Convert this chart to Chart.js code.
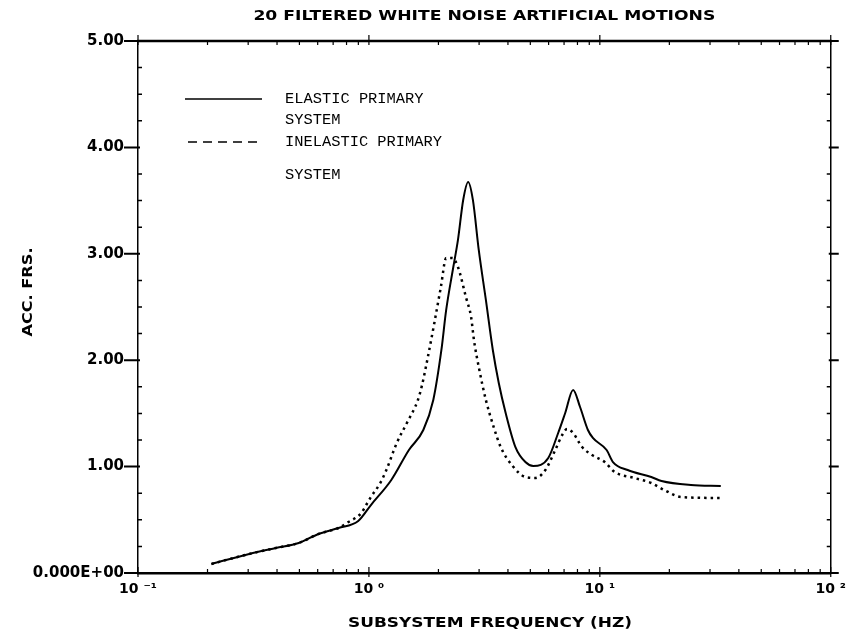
<!DOCTYPE html>
<html>
<head>
<meta charset="utf-8">
<script src="https://cdn.jsdelivr.net/npm/chart.js@4.4.0/dist/chart.umd.min.js"></script>
<style>
html,body{margin:0;padding:0;background:#fff;}
#c{display:block;}
</style>
</head>
<body>
<canvas id="c" width="854" height="637"></canvas>
<script>
// ---- data ----
const elasticFreq = [0.208,0.303,0.395,0.497,0.605,0.738,0.899,1.02,1.25,1.49,1.72,1.90,2.06,2.16,2.32,2.43,2.56,2.69,2.82,2.99,3.21,3.44,3.65,3.91,4.31,4.76,5.15,5.98,6.60,7.08,7.66,8.21,8.88,9.33,10.7,11.4,13.2,16.7,18.5,24.8,33.4];
const elasticAcc  = [0.085,0.179,0.235,0.282,0.367,0.423,0.489,0.639,0.874,1.156,1.344,1.626,2.096,2.47,2.876,3.13,3.506,3.675,3.506,3.036,2.566,2.096,1.786,1.504,1.184,1.043,1.006,1.081,1.316,1.504,1.72,1.56,1.344,1.269,1.156,1.043,0.968,0.902,0.865,0.827,0.818];
const inelasticFreq = [0.208,0.303,0.395,0.497,0.605,0.738,0.815,0.927,0.973,1.02,1.12,1.19,1.32,1.46,1.63,1.70,1.80,1.92,2.05,2.16,2.30,2.43,2.63,2.77,2.85,2.99,3.21,3.47,3.72,4.19,4.76,5.26,5.81,6.41,6.87,7.21,7.66,8.38,9.25,10.5,11.6,14.1,16.7,19.0,22.5,33.4];
const inelasticAcc  = [0.085,0.179,0.235,0.282,0.367,0.423,0.479,0.564,0.639,0.714,0.846,0.968,1.222,1.41,1.626,1.77,2.03,2.35,2.69,2.96,2.96,2.876,2.594,2.406,2.19,1.936,1.626,1.372,1.184,1.006,0.902,0.893,0.968,1.156,1.297,1.353,1.316,1.184,1.109,1.043,0.949,0.893,0.846,0.78,0.714,0.705];
const xTickLabels = {'-1':'10 \u207B\u00B9','0':'10 \u2070','1':'10 \u00B9','2':'10 \u00B2'};
const yTickValues = [0,1,2,3,4,5];
const seriesNames = ['ELASTIC PRIMARY','SYSTEM','INELASTIC PRIMARY','SYSTEM'];
const chartTitle = '20 FILTERED WHITE NOISE ARTIFICIAL MOTIONS';
const xTitle = 'SUBSYSTEM FREQUENCY (HZ)';
const yTitle = 'ACC. FRS.';

const toPts = (xs, ys) => xs.map((x, i) => ({x: x, y: ys[i]}));

function fitText(ctx, text, x, y, width, font, align) {
  ctx.save();
  ctx.font = font;
  const w = ctx.measureText(text).width;
  const s = width / w;
  ctx.translate(x, y);
  ctx.scale(s, 1);
  ctx.textBaseline = 'middle';
  ctx.textAlign = align || 'center';
  ctx.fillStyle = '#000';
  ctx.fillText(text, 0, 0);
  ctx.restore();
}

const decor = {
  id: 'decor',
  afterDraw(chart) {
    const ctx = chart.ctx;
    const a = chart.chartArea;
    const xs = chart.scales.x, ys = chart.scales.y;
    ctx.save();
    ctx.strokeStyle = '#000';
    // top & right frame
    ctx.lineWidth = 2.5;
    ctx.beginPath(); ctx.moveTo(a.left - 1, a.top); ctx.lineTo(a.right + 1, a.top); ctx.stroke();
    ctx.lineWidth = 1.5;
    ctx.beginPath(); ctx.moveTo(a.right, a.top); ctx.lineTo(a.right, a.bottom); ctx.stroke();
    // x ticks
    ctx.lineWidth = 1.2;
    for (let d = -1; d <= 2; d++) {
      for (let k = 1; k <= 9; k++) {
        const v = k * Math.pow(10, d);
        if (v > 100.0001) continue;
        const px = xs.getPixelForValue(v);
        ctx.beginPath();
        if (k === 1) {
          ctx.moveTo(px, a.bottom + 4); ctx.lineTo(px, a.bottom - 6);
          ctx.moveTo(px, a.top - 6); ctx.lineTo(px, a.top + 4);
        } else {
          ctx.moveTo(px, a.bottom); ctx.lineTo(px, a.bottom - 4);
          ctx.moveTo(px, a.top); ctx.lineTo(px, a.top + 4);
        }
        ctx.stroke();
      }
    }
    // y ticks
    for (let i = 0; i <= 20; i++) {
      const v = i * 0.25;
      const py = ys.getPixelForValue(v);
      ctx.beginPath();
      if (i % 4 === 0) {
        ctx.lineWidth = 2;
        ctx.moveTo(a.left - 14, py); ctx.lineTo(a.left + 2, py);
        ctx.moveTo(a.right - 2, py); ctx.lineTo(a.right + 8, py);
      } else {
        ctx.lineWidth = 1.5;
        ctx.moveTo(a.left, py); ctx.lineTo(a.left + 4, py);
        ctx.moveTo(a.right, py); ctx.lineTo(a.right - 4, py);
      }
      ctx.stroke();
    }
    // titles
    const sansB = 'bold 14px "DejaVu Sans"';
    fitText(ctx, chartTitle, (a.left + a.right) / 2, 16, 462, sansB);
    fitText(ctx, xTitle, 490, 623, 284, sansB);
    ctx.save();
    ctx.translate(28, 292);
    ctx.rotate(-Math.PI / 2);
    fitText(ctx, yTitle, 0, 0, 89, sansB);
    ctx.restore();
    // legend
    const mono = '14px "Liberation Mono"';
    ctx.font = mono;
    const sc = 157 / ctx.measureText(seriesNames[2]).width;
    const drawLeg = (t, y) => {
      ctx.save(); ctx.font = mono;
      const w = ctx.measureText(t).width * sc;
      ctx.restore();
      fitText(ctx, t, 285, y, w, mono, 'left');
    };
    ctx.lineWidth = 1.6;
    ctx.setLineDash([]);
    ctx.beginPath(); ctx.moveTo(185, 99); ctx.lineTo(262, 99); ctx.stroke();
    ctx.setLineDash([9, 6]);
    ctx.beginPath(); ctx.moveTo(188, 142); ctx.lineTo(262, 142); ctx.stroke();
    ctx.setLineDash([]);
    drawLeg(seriesNames[0], 99);
    drawLeg(seriesNames[1], 120);
    drawLeg(seriesNames[2], 142);
    drawLeg(seriesNames[3], 175);
    ctx.restore();
  }
};

new Chart(document.getElementById('c'), {
  type: 'line',
  data: {
    datasets: [
      {
        label: 'ELASTIC PRIMARY SYSTEM',
        data: toPts(elasticFreq, elasticAcc),
        borderColor: '#000',
        borderWidth: 2,
        pointRadius: 0,
        cubicInterpolationMode: 'monotone',
        fill: false
      },
      {
        label: 'INELASTIC PRIMARY SYSTEM',
        data: toPts(inelasticFreq, inelasticAcc),
        borderColor: '#000',
        borderWidth: 2.5,
        borderDash: [2.5, 4],
        pointRadius: 0,
        cubicInterpolationMode: 'monotone',
        fill: false
      }
    ]
  },
  options: {
    responsive: false,
    animation: false,
    devicePixelRatio: 1,
    layout: {padding: {left: 0, right: 18, top: 41, bottom: 0}},
    plugins: {legend: {display: false}, title: {display: false}, tooltip: {enabled: false}},
    scales: {
      x: {
        type: 'logarithmic',
        min: 0.1,
        max: 100,
        position: 'bottom',
        afterFit: s => { s.height = 64; },
        grid: {display: false, drawTicks: false},
        border: {display: true, color: '#000', width: 2.5},
        ticks: {
          autoSkip: false,
          maxRotation: 0,
          padding: 8,
          color: '#000',
          font: {family: 'DejaVu Sans', size: 14, weight: 'bold'},
          callback: v => {
            const l = Math.log10(v);
            const r = Math.round(l);
            return Math.abs(l - r) < 1e-6 ? xTickLabels[String(r)] : '';
          }
        }
      },
      y: {
        type: 'linear',
        min: 0,
        max: 5,
        afterFit: s => { s.width = 138; },
        afterBuildTicks: s => { s.ticks = yTickValues.map(v => ({value: v})); },
        grid: {display: false, drawTicks: false},
        border: {display: true, color: '#000', width: 1.5},
        ticks: {
          padding: 14,
          color: '#000',
          font: {family: 'DejaVu Sans', size: 15, weight: 'bold'},
          callback: v => v === 0 ? '0.000E+00' : v.toFixed(2)
        }
      }
    }
  },
  plugins: [decor]
});
</script>
</body>
</html>
